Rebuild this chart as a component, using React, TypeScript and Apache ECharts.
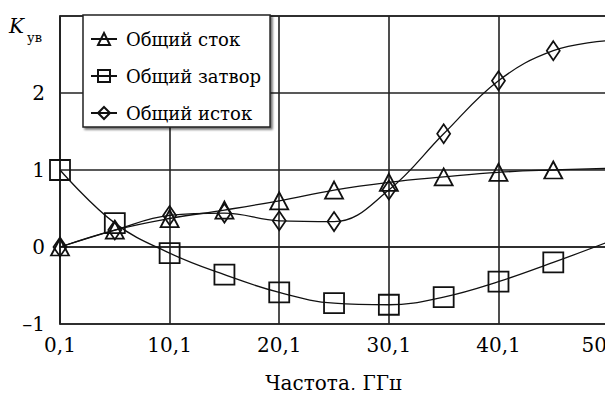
import React, { useEffect, useRef } from "react";
import * as echarts from "echarts";

const xTicks = [0.1, 10.1, 20.1, 30.1, 40.1, 50];
const xValues = [0.1, 5.1, 10.1, 15.1, 20.1, 25.1, 30.1, 35.1, 40.1, 45.1, 50];
const seriesNames = ["Общий сток", "Общий затвор", "Общий исток"];
const drainValues = [0, 0.22, 0.37, 0.48, 0.6, 0.74, 0.84, 0.91, 0.97, 1.0, 1.02];
const gateValues = [1.0, 0.31, -0.08, -0.36, -0.59, -0.73, -0.75, -0.65, -0.45, -0.2, 0.06];
const sourceValues = [0, 0.22, 0.41, 0.44, 0.34, 0.33, 0.74, 1.47, 2.16, 2.55, 2.68];
const yLabelHidden = 3;

const FONT = "DejaVu Serif";
const FS = 20;

function makeData(vals: number[]) {
  return vals.map((v, i) => {
    const item: any = { value: [xValues[i], v] };
    if (i === vals.length - 1) item.symbol = "none";
    return item;
  });
}

export default function App() {
  const ref = useRef<HTMLDivElement>(null);
  useEffect(() => {
    if (!ref.current) return;
    const chart = echarts.init(ref.current, undefined, { renderer: "svg" });
    const mk = (name: string, vals: number[], symbol: string, size: any) => ({
      name,
      type: "line",
      smooth: 0.4,
      data: makeData(vals),
      symbol,
      symbolSize: size,
      showAllSymbol: true,
      lineStyle: { color: "#111", width: 1.3 },
      itemStyle: { color: "rgba(255,255,255,0)", borderColor: "#111", borderWidth: 1.8 },
      emphasis: { disabled: true },
    });
    chart.setOption({
      animation: false,
      backgroundColor: "#fff",
      textStyle: { fontFamily: FONT, color: "#000" },
      grid: {
        left: 60,
        right: 6,
        top: 16,
        bottom: 68,
        show: true,
        borderColor: "#222",
        borderWidth: 1.6,
        backgroundColor: "transparent",
      },
      legend: {
        orient: "vertical",
        left: 83,
        top: 15,
        padding: [12, 9, 2, 7],
        itemGap: 13,
        itemWidth: 26,
        itemHeight: 15,
        backgroundColor: "#fff",
        borderColor: "#222",
        borderWidth: 1.5,
        borderRadius: 0,
        shadowColor: "rgba(0,0,0,0.55)",
        shadowBlur: 2,
        shadowOffsetX: 2,
        shadowOffsetY: 2,
        textStyle: { fontFamily: FONT, fontSize: 18, color: "#000", lineHeight: 24, padding: [0, 0, 0, 4] },
        data: seriesNames,
      },
      xAxis: {
        type: "value",
        min: 0.1,
        max: 50,
        name: "Частота, ГГц",
        nameLocation: "middle",
        nameGap: 49,
        nameTextStyle: { fontFamily: FONT, fontSize: FS, color: "#000" },
        axisLine: { show: true, lineStyle: { color: "#222", width: 1.6 } },
        axisTick: { show: true, length: 0, customValues: xTicks },
        axisLabel: {
          customValues: xTicks,
          margin: 11,
          fontFamily: FONT,
          fontSize: FS,
          color: "#000",
          alignMaxLabel: "right",
          formatter: (v: number) => String(Math.round(v * 10) / 10).replace(".", ","),
        },
        splitLine: { show: true, lineStyle: { color: "#222", width: 1.6 } },
      },
      yAxis: {
        type: "value",
        min: -1,
        max: 3,
        interval: 1,
        axisLine: { show: true, lineStyle: { color: "#222", width: 1.6 } },
        axisTick: { show: false },
        axisLabel: {
          margin: 15,
          fontFamily: FONT,
          fontSize: FS,
          color: "#000",
          formatter: (v: number) => (v === yLabelHidden ? "" : v < 0 ? "–" + Math.abs(v) : String(v)),
        },
        splitLine: { show: true, lineStyle: { color: "#222", width: 1.6 } },
      },
      graphic: [
        {
          type: "text",
          left: 9,
          top: 16,
          style: { text: "K", fontFamily: FONT, fontStyle: "italic", fontSize: FS, fill: "#000" },
        },
        {
          type: "text",
          left: 27,
          top: 31,
          style: { text: "ув", fontFamily: FONT, fontSize: 13, fill: "#000" },
        },
      ],
      series: [
        mk(seriesNames[0], drainValues, "triangle", [18, 17]),
        mk(seriesNames[1], gateValues, "rect", [20, 20]),
        mk(seriesNames[2], sourceValues, "diamond", [13, 19]),
      ],
    });
    return () => chart.dispose();
  }, []);
  return <div ref={ref} style={{ width: 613, height: 398, margin: -8 }} />;
}
